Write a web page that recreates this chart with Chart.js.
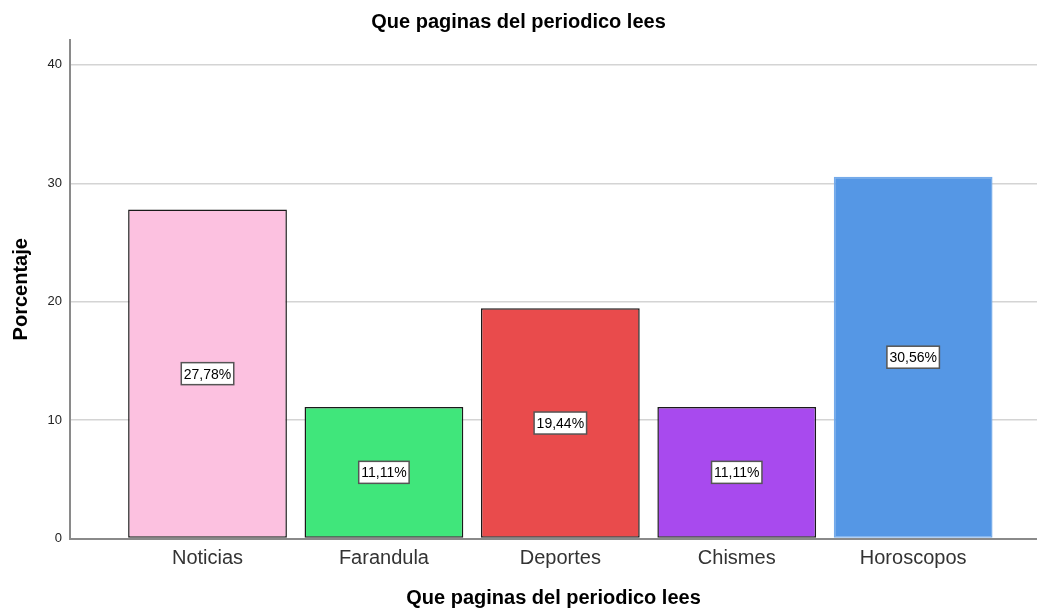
<!DOCTYPE html>
<html>
<head>
<meta charset="utf-8">
<script src="https://cdn.jsdelivr.net/npm/chart.js@4"></script>
<style>
  html, body { margin: 0; padding: 0; background: #fff; }
  #wrap { width: 1037px; height: 608px; }
</style>
</head>
<body>
<div id="wrap"><canvas id="pagesChart"></canvas></div>
<script>
var categories = ['Noticias', 'Farandula', 'Deportes', 'Chismes', 'Horoscopos'];
var percentages = [27.78, 11.11, 19.44, 11.11, 30.56];
var yTicks = [0, 10, 20, 30, 40];
var barColors = ['#FCC1E0', '#40E67B', '#E94B4C', '#A84AEE', '#5597E5'];
var barBorders = ['#1a1a1a', '#1a1a1a', '#1a1a1a', '#1a1a1a', '#74aaea'];

var fontFamily = '"Liberation Sans", Arial, sans-serif';

// white boxes with the percentage, centred in each bar
var boxLabels = {
    id: 'boxLabels',
    afterDatasetsDraw: function(chart) {
        var ctx = chart.ctx;
        var meta = chart.getDatasetMeta(0);
        ctx.save();
        ctx.font = '14px ' + fontFamily;
        ctx.textAlign = 'center';
        ctx.textBaseline = 'middle';
        meta.data.forEach(function(bar, i) {
            var text = percentages[i].toFixed(2).replace('.', ',') + '%';
            var cy = (bar.y + bar.base) / 2;
            var w = ctx.measureText(text).width + 5;
            var h = 22;
            ctx.fillStyle = '#ffffff';
            ctx.fillRect(bar.x - w / 2, cy - h / 2, w, h);
            ctx.strokeStyle = '#555555';
            ctx.lineWidth = 1.5;
            ctx.strokeRect(bar.x - w / 2, cy - h / 2, w, h);
            ctx.fillStyle = '#000000';
            ctx.fillText(text, bar.x, cy + 1);
        });
        ctx.restore();
    }
};

var ctx = document.getElementById('pagesChart').getContext('2d');
var pagesChart = new Chart(ctx, {
    type: 'bar',
    data: {
        datasets: [{
            label: 'Porcentaje',
            data: percentages.map(function(v, i) { return { x: i, y: v }; }),
            backgroundColor: barColors,
            borderColor: barBorders,
            borderWidth: 1.5,
            borderSkipped: false,
            categoryPercentage: 1,
            barPercentage: 0.9
        }]
    },
    options: {
        responsive: true,
        maintainAspectRatio: false,
        animation: false,
        layout: { padding: 0 },
        plugins: {
            legend: { display: false },
            tooltip: { enabled: false },
            title: {
                display: true,
                text: 'Que paginas del periodico lees',
                color: '#000',
                font: { family: fontFamily, size: 20, weight: 'bold', lineHeight: 1.2 },
                padding: { top: 10, bottom: 6 }
            }
        },
        scales: {
            x: {
                type: 'linear',
                offset: false,
                min: -0.7795,
                max: 4.702,
                afterBuildTicks: function(scale) {
                    scale.ticks = categories.map(function(c, i) { return { value: i }; });
                },
                afterFit: function(scale) { scale.height = 69.5; },
                grid: { display: false, drawTicks: false, offset: false },
                border: { display: true, color: '#8a8a8a', width: 2 },
                ticks: {
                    padding: 8,
                    color: '#333',
                    font: { family: fontFamily, size: 20 },
                    callback: function(value) { return categories[value]; }
                },
                title: {
                    display: true,
                    text: 'Que paginas del periodico lees',
                    color: '#000',
                    font: { family: fontFamily, size: 20, weight: 'bold', lineHeight: 1 },
                    padding: { top: 0, bottom: 0 }
                }
            },
            y: {
                min: 0,
                max: 42.1,
                afterBuildTicks: function(scale) {
                    scale.ticks = yTicks.map(function(v) { return { value: v }; });
                },
                afterFit: function(scale) { scale.width = 70; },
                grid: { color: '#d4d4d4', lineWidth: 1.5, drawTicks: false },
                border: { display: true, color: '#8a8a8a', width: 2 },
                ticks: {
                    padding: 8,
                    color: '#222',
                    font: { family: fontFamily, size: 13 }
                },
                title: {
                    display: true,
                    text: 'Porcentaje',
                    color: '#000',
                    font: { family: fontFamily, size: 20, weight: 'bold', lineHeight: 1 },
                    padding: { top: 11, bottom: 0 }
                }
            }
        }
    },
    plugins: [boxLabels]
});
</script>
</body>
</html>
